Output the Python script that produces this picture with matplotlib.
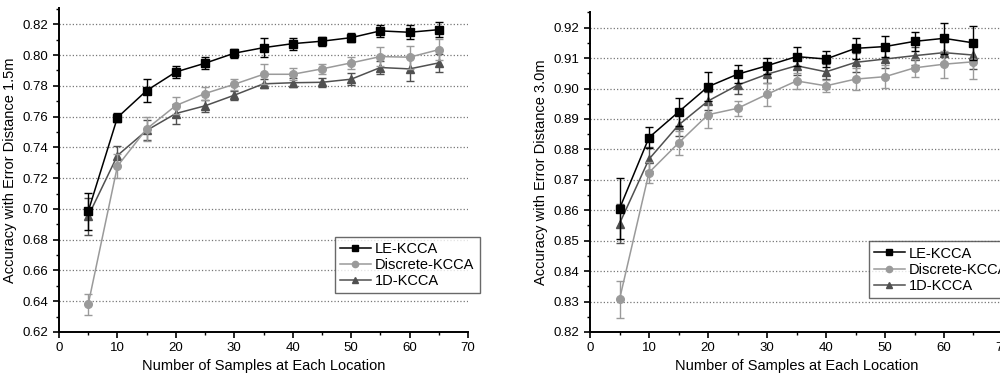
import matplotlib
matplotlib.use("Agg")
import matplotlib.pyplot as plt
from matplotlib.ticker import MultipleLocator
from matplotlib.lines import Line2D

plt.rcParams['font.family'] = ['Liberation Sans', 'DejaVu Sans']

samples = [5, 10, 15, 20, 25, 30, 35, 40, 45, 50, 55, 60, 65]
series_names = ["LE-KCCA", "Discrete-KCCA", "1D-KCCA"]

# error distance 1.5m
le_15 = [0.6984, 0.7594, 0.7769, 0.7890, 0.7947, 0.8012, 0.8048, 0.8074, 0.8090, 0.8113, 0.8157, 0.8148, 0.8165]
le_15_err = [0.012, 0.003, 0.0076, 0.004, 0.004, 0.003, 0.006, 0.004, 0.003, 0.003, 0.004, 0.0045, 0.005]
disc_15 = [0.6380, 0.7278, 0.7520, 0.7672, 0.7750, 0.7810, 0.7875, 0.7875, 0.7910, 0.7949, 0.7990, 0.7986, 0.8035]
disc_15_err = [0.007, 0.008, 0.008, 0.0055, 0.004, 0.0035, 0.0065, 0.004, 0.003, 0.004, 0.006, 0.0075, 0.007]
d1_15 = [0.6953, 0.7347, 0.7510, 0.7620, 0.7670, 0.7739, 0.7813, 0.7820, 0.7823, 0.7843, 0.7919, 0.7910, 0.7949]
d1_15_err = [0.012, 0.0065, 0.0065, 0.0065, 0.0038, 0.003, 0.003, 0.003, 0.003, 0.004, 0.004, 0.008, 0.006]

# error distance 3.0m
le_30 = [0.8605, 0.8839, 0.8923, 0.9006, 0.9047, 0.9075, 0.9105, 0.9097, 0.9132, 0.9138, 0.9155, 0.9165, 0.9150]
le_30_err = [0.0101, 0.0035, 0.0045, 0.0047, 0.003, 0.0026, 0.003, 0.0027, 0.0034, 0.0034, 0.0032, 0.005, 0.0055]
disc_30 = [0.8307, 0.8724, 0.8821, 0.8914, 0.8935, 0.8981, 0.9025, 0.9009, 0.9031, 0.9039, 0.9068, 0.9080, 0.9088]
disc_30_err = [0.0062, 0.0035, 0.004, 0.0045, 0.0025, 0.0038, 0.0025, 0.002, 0.0035, 0.0038, 0.003, 0.0045, 0.0055]
d1_30 = [0.8556, 0.8768, 0.8880, 0.8959, 0.9011, 0.9047, 0.9075, 0.9055, 0.9086, 0.9097, 0.9108, 0.9118, 0.9110]
d1_30_err = [0.0065, 0.004, 0.0035, 0.003, 0.003, 0.003, 0.003, 0.0025, 0.003, 0.003, 0.003, 0.0035, 0.0045]

colors = ["#000000", "#9a9a9a", "#505050"]
markers = ["s", "o", "^"]


def draw_panel(ax, data, errs, ylim, ymajor, ylabel, legend_anchor):
    for k in range(3):
        ax.errorbar(samples, data[k], yerr=errs[k], color=colors[k], marker=markers[k],
                    markersize=5.5, linewidth=1.1, elinewidth=1.0, capsize=3,
                    capthick=1.0, zorder=3 + (2 - k))
    ax.set_xlim(0, 70)
    ax.set_ylim(*ylim)
    ax.xaxis.set_major_locator(MultipleLocator(10))
    ax.xaxis.set_minor_locator(MultipleLocator(5))
    ax.yaxis.set_major_locator(MultipleLocator(ymajor))
    ax.yaxis.set_minor_locator(MultipleLocator(ymajor / 2))
    ax.yaxis.grid(True, which='major', linestyle=':', color='#777777', linewidth=0.9)
    ax.set_axisbelow(True)
    for s in ['top', 'right']:
        ax.spines[s].set_visible(False)
    for s in ['left', 'bottom']:
        ax.spines[s].set_linewidth(1.4)
    ax.tick_params(which='major', direction='out', length=4, width=1.2, labelsize=9.5)
    ax.tick_params(which='minor', direction='out', length=2.5, width=1.0)
    ax.set_xlabel("Number of Samples at Each Location", fontsize=10.5, labelpad=3)
    ax.set_ylabel(ylabel, fontsize=10.5)
    # legend shows only line + marker, no error bars
    handles = [Line2D([], [], color=colors[k], marker=markers[k], markersize=4.5,
                      linewidth=1.1) for k in range(3)]
    leg = ax.legend(handles, series_names, loc='lower left', bbox_to_anchor=legend_anchor,
                    fontsize=10.5, frameon=True, fancybox=False, edgecolor='#444444',
                    handlelength=2.1, handletextpad=0.3, labelspacing=0.15,
                    borderpad=0.35, borderaxespad=0)
    leg.get_frame().set_linewidth(1.0)


fig = plt.figure(figsize=(10, 3.74), dpi=100)
ax1 = fig.add_axes([0.059, 0.1123, 0.409, 0.866])
ax2 = fig.add_axes([0.590, 0.1123, 0.413, 0.856])

draw_panel(ax1, [le_15, disc_15, d1_15], [le_15_err, disc_15_err, d1_15_err],
           (0.62, 0.8305), 0.02, "Accuracy with Error Distance 1.5m", (0.675, 0.12))
draw_panel(ax2, [le_30, disc_30, d1_30], [le_30_err, disc_30_err, d1_30_err],
           (0.82, 0.9252), 0.01, "Accuracy with Error Distance 3.0m", (0.6755, 0.106))

fig.savefig("out.png", dpi=100)
